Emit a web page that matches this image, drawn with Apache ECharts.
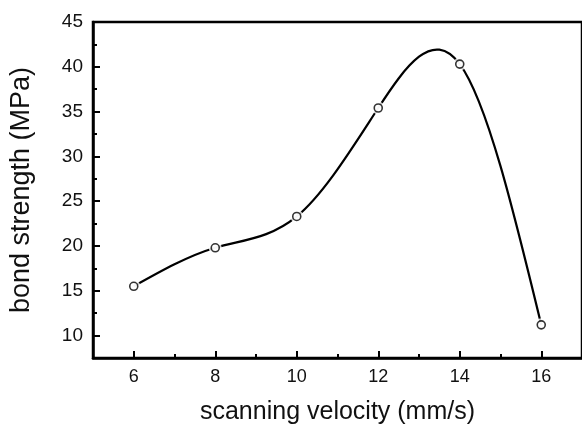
<!DOCTYPE html>
<html><head><meta charset="utf-8">
<script src="https://cdn.jsdelivr.net/npm/echarts@6/dist/echarts.min.js"></script>
<style>html,body{margin:0;padding:0;background:#fff}#c{width:582px;height:430px}</style>
</head><body><div id="c"></div>
<script>
var velocity = [6, 8, 10, 12, 14, 16];
var strength = [15.5, 19.8, 23.3, 35.4, 40.3, 11.2];
var xMajorTicks = [6, 8, 10, 12, 14, 16];
var xMinorTicks = [7, 9, 11, 13, 15];
var yMajorTicks = [10, 15, 20, 25, 30, 35, 40, 45];
var yMinorTicks = [12.5, 17.5, 22.5, 27.5, 32.5, 37.5, 42.5];

// natural cubic spline slopes through the data points (curve drawn through them)
function splineSlopes(xs, ys) {
  var n = xs.length, h = [], i;
  for (i = 0; i < n - 1; i++) h.push(xs[i + 1] - xs[i]);
  var M = new Array(n).fill(0);
  var a = [], b = [], c = [], d = [];
  for (i = 1; i < n - 1; i++) {
    a.push(h[i - 1]); b.push(2 * (h[i - 1] + h[i])); c.push(h[i]);
    d.push(6 * ((ys[i + 1] - ys[i]) / h[i] - (ys[i] - ys[i - 1]) / h[i - 1]));
  }
  var m = d.length;
  for (i = 1; i < m; i++) {
    var w = a[i] / b[i - 1];
    b[i] -= w * c[i - 1]; d[i] -= w * d[i - 1];
  }
  var sol = new Array(m);
  sol[m - 1] = d[m - 1] / b[m - 1];
  for (i = m - 2; i >= 0; i--) sol[i] = (d[i] - c[i] * sol[i + 1]) / b[i];
  for (i = 0; i < m; i++) M[i + 1] = sol[i];
  var s = [];
  for (i = 0; i < n; i++) {
    if (i < n - 1) s.push((ys[i + 1] - ys[i]) / h[i] - h[i] * (2 * M[i] + M[i + 1]) / 6);
    else s.push((ys[i] - ys[i - 1]) / h[i - 1] + h[i - 1] * (M[i - 1] + 2 * M[i]) / 6);
  }
  return s;
}
var slopes = splineSlopes(velocity, strength);

var FONT = 'Liberation Sans, Arial, sans-serif';
var chart = echarts.init(document.getElementById('c'));
var axisLine = {show: true, lineStyle: {color: '#000', width: 2.5}};
var points = velocity.map(function (v, i) { return [v, strength[i]]; });

chart.setOption({
  animation: false,
  backgroundColor: '#fff',
  grid: {left: 93, top: 22, bottom: 70, right: -8, show: true, borderColor: '#000', borderWidth: 2.5, backgroundColor: 'transparent'},
  xAxis: [{
    type: 'value', min: 5, max: 17,
    name: 'scanning velocity (mm/s)', nameLocation: 'middle', nameGap: 42,
    nameTextStyle: {fontFamily: FONT, fontSize: 25, color: '#111'},
    axisLine: axisLine,
    axisTick: {show: true, inside: true, length: 7, lineStyle: {color: '#000', width: 2}, customValues: xMajorTicks},
    axisLabel: {fontFamily: FONT, fontSize: 18, color: '#111', margin: 10, customValues: xMajorTicks},
    splitLine: {show: false}
  }, {
    type: 'value', min: 5, max: 17, position: 'bottom',
    axisLine: {show: false},
    axisTick: {show: true, inside: true, length: 4, lineStyle: {color: '#000', width: 2}, customValues: xMinorTicks},
    axisLabel: {show: false},
    splitLine: {show: false}
  }],
  yAxis: [{
    type: 'value', min: 7.5, max: 45,
    name: 'bond strength (MPa)', nameLocation: 'middle', nameGap: 58,
    nameTextStyle: {fontFamily: FONT, fontSize: 27, color: '#111'},
    axisLine: axisLine,
    axisTick: {show: true, inside: true, length: 7, lineStyle: {color: '#000', width: 2}, customValues: yMajorTicks},
    axisLabel: {fontFamily: FONT, fontSize: 19, color: '#111', margin: 10, customValues: yMajorTicks},
    splitLine: {show: false}
  }, {
    type: 'value', min: 7.5, max: 45, position: 'left',
    axisLine: {show: false},
    axisTick: {show: true, inside: true, length: 4, lineStyle: {color: '#000', width: 2}, customValues: yMinorTicks},
    axisLabel: {show: false},
    splitLine: {show: false}
  }],
  series: [{
    type: 'custom',
    xAxisIndex: 0, yAxisIndex: 0,
    data: points,
    z: 2,
    renderItem: function (params, api) {
      var i = params.dataIndex;
      if (i >= velocity.length - 1) return null;
      var x0 = velocity[i], x1 = velocity[i + 1];
      var h = x1 - x0;
      var p0 = api.coord([x0, strength[i]]);
      var p1 = api.coord([x1, strength[i + 1]]);
      var c0 = api.coord([x0 + h / 3, strength[i] + slopes[i] * h / 3]);
      var c1 = api.coord([x1 - h / 3, strength[i + 1] - slopes[i + 1] * h / 3]);
      return {
        type: 'bezierCurve',
        shape: {x1: p0[0], y1: p0[1], x2: p1[0], y2: p1[1], cpx1: c0[0], cpy1: c0[1], cpx2: c1[0], cpy2: c1[1]},
        style: {stroke: '#000', lineWidth: 2.2, fill: null}
      };
    }
  }, {
    type: 'scatter',
    xAxisIndex: 0, yAxisIndex: 0,
    data: points, z: 3,
    symbol: 'circle', symbolSize: 13,
    itemStyle: {color: '#fff', borderWidth: 0}
  }, {
    type: 'scatter',
    xAxisIndex: 0, yAxisIndex: 0,
    data: points, z: 4,
    symbol: 'circle', symbolSize: 8,
    itemStyle: {color: '#fff', borderColor: '#000', borderWidth: 1.6}
  }]
});
</script></body></html>
